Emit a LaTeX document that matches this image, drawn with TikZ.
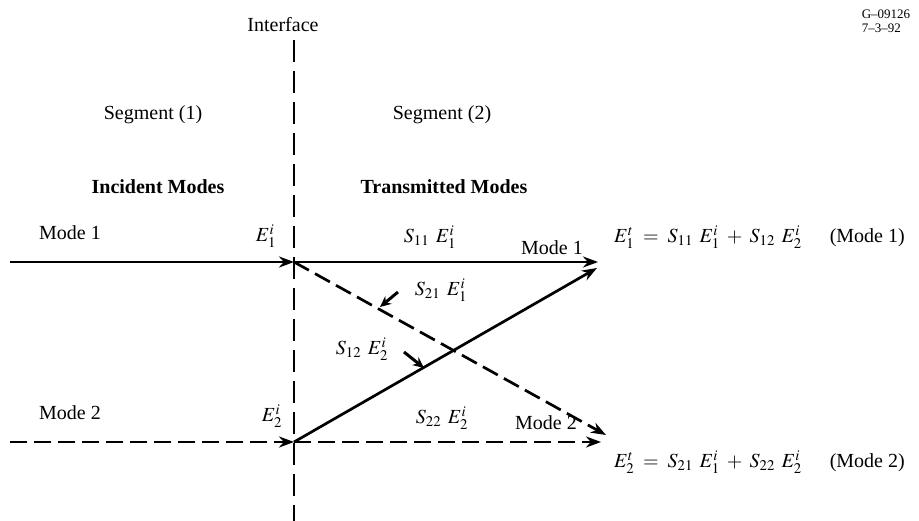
\documentclass[tikz,border=0pt]{standalone}
\usepackage{mathptmx}
\usepackage{fontspec}
\setmainfont{Liberation Serif}
\usetikzlibrary{arrows.meta}
\begin{document}
\begin{tikzpicture}[x=1pt,y=-1pt,font=\fontsize{20}{23}\selectfont,
  solidln/.style={line width=2.7pt},
  dashln/.style={line width=2.7pt,dash pattern=on 17pt off 7pt},
  tip/.style={-{Stealth[length=15pt,width=11pt]}},
  smalltip/.style={line width=3pt,-{Stealth[length=11pt,width=10pt]}},
  lbl/.style={inner sep=1pt}]
\useasboundingbox (0,0) rectangle (919,521);
% coordinates
\coordinate (top) at (294,40);
\coordinate (bot) at (294,521);
\coordinate (I1) at (294,262);
\coordinate (I2) at (294,442);
\coordinate (L1) at (10,262);
\coordinate (L2) at (10,442);
\coordinate (R1) at (598,262);
\coordinate (R2) at (601,442);
\coordinate (R1s) at (597,268);
\coordinate (R2d) at (606,435);
% interface
\draw[line width=2.8pt,dash pattern=on 22pt off 9pt] (top) -- (bot);
% incident
\draw[solidln,tip] (L1) -- (I1);
\draw[dashln,tip] (L2) -- (I2);
% transmitted
\draw[solidln,tip] (I1) -- (R1);
\draw[dashln,tip] (I2) -- (R2);
\draw[dashln,tip] (I1) -- (R2d);
\draw[solidln,tip] (I2) -- (R1s);
% texts
\node[lbl] (int) at (283,25) {Interface};
\node[lbl] (seg1) at (153,115) {Segment (1)};
\node[lbl] (seg2) at (442,115) {Segment (2)};
\node[lbl,font=\fontsize{20}{23}\selectfont\bfseries] (inc) at (158,187) {Incident Modes};
\node[lbl,font=\fontsize{20}{23}\selectfont\bfseries] (tra) at (444,187) {Transmitted Modes};
\node[lbl] (m1l) at (70,233) {Mode 1};
\node[lbl] (m2l) at (70,413) {Mode 2};
\node[lbl] (e1) at (266,236) {$E_1^i$};
\node[lbl] (e2) at (272,416) {$E_2^i$};
\node[lbl] (s11) at (430,237) {$S_{11}\;\,E_1^i$};
\node[lbl] (m1r) at (552,248) {Mode 1};
\node[lbl] (s21) at (441,290) {$S_{21}\;\,E_1^i$};
\node[lbl] (s12) at (362,349) {$S_{12}\;\,E_2^i$};
\node[lbl] (s22) at (442,418) {$S_{22}\;\,E_2^i$};
\node[lbl] (m2r) at (546,423) {Mode 2};
\node[lbl,anchor=west] (eq1) at (613,237) {$E_1^t \;=\; S_{11}\;\,E_1^i \;+\; S_{12}\;\,E_2^i$\hspace{28pt}(Mode 1)};
\node[lbl,anchor=west] (eq2) at (613,462) {$E_2^t \;=\; S_{21}\;\,E_1^i \;+\; S_{22}\;\,E_2^i$\hspace{28pt}(Mode 2)};
\node[lbl,font=\fontsize{13}{14}\selectfont,align=left] (gid) at (886,21) {G--09126\\7--3--92};
% label arrows
\coordinate (a21) at (398,292);
\coordinate (b21) at (380,307);
\coordinate (a12) at (404,352);
\coordinate (b12) at (424,368);
\draw[smalltip] (a21) -- (b21);
\draw[smalltip] (a12) -- (b12);
\end{tikzpicture}
\end{document}
